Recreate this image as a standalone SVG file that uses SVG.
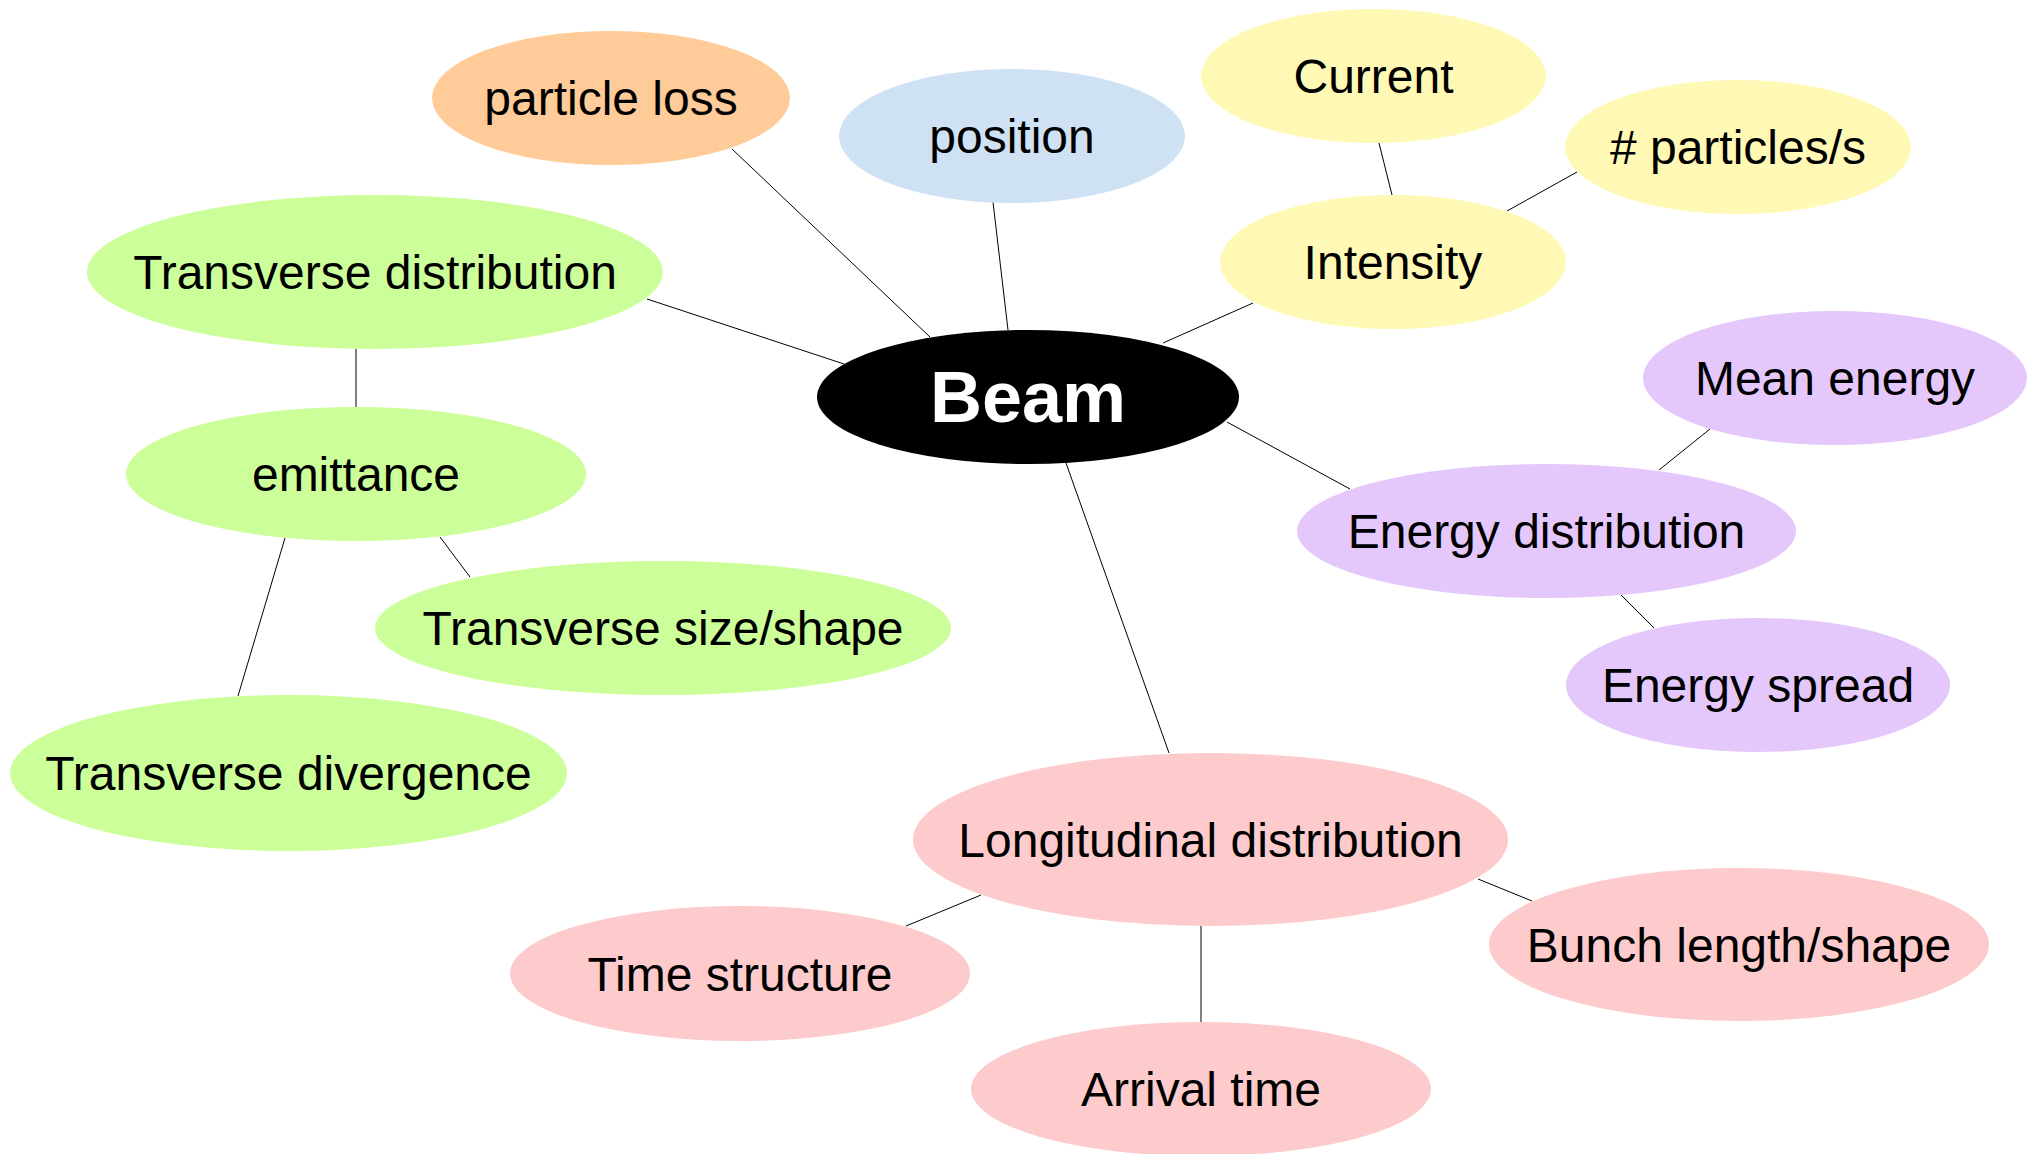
<svg xmlns="http://www.w3.org/2000/svg" width="2031" height="1154" viewBox="0 0 2031 1154">
<style>
text{font-family:"Liberation Sans",Arial,sans-serif;font-size:48px;fill:#000;text-anchor:middle}
.c line{stroke:#000;stroke-width:1}
.peach{fill:#ffcc99}.blue{fill:#cfe2f3}.yellow{fill:#fff9b5}.green{fill:#ccff99}.purple{fill:#e4c8fc}.pink{fill:#fdcbcb}
</style>
<rect width="2031" height="1154" fill="#fff"/>
<g class="c" id="connectors">
<line x1="732" y1="149" x2="930" y2="337"/>
<line x1="993" y1="202" x2="1008" y2="330"/>
<line x1="1253" y1="303" x2="1163" y2="343"/>
<line x1="647" y1="299" x2="844" y2="364"/>
<line x1="1379" y1="143" x2="1392" y2="195"/>
<line x1="1507" y1="211" x2="1577" y2="172"/>
<line x1="1710" y1="429" x2="1659" y2="470"/>
<line x1="1227" y1="422" x2="1350" y2="489"/>
<line x1="1621" y1="595" x2="1654" y2="628"/>
<line x1="1066" y1="463" x2="1169" y2="753"/>
<line x1="356" y1="349" x2="356" y2="407"/>
<line x1="285" y1="538" x2="238" y2="696"/>
<line x1="440" y1="537" x2="470" y2="577"/>
<line x1="981" y1="895" x2="906" y2="926"/>
<line x1="1201" y1="926" x2="1201" y2="1022"/>
<line x1="1478" y1="879" x2="1532" y2="901"/>
</g>
<g id="beam"><ellipse cx="1028" cy="397" rx="211" ry="67" fill="#000"/><text x="1028" y="422" style="font-size:72px;font-weight:bold;fill:#fff">Beam</text></g>
<g id="particle-loss"><ellipse class="peach" cx="611" cy="98" rx="179" ry="67"/><text x="611" y="115">particle loss</text></g>
<g id="position"><ellipse class="blue" cx="1012" cy="136" rx="173" ry="67"/><text x="1012" y="153">position</text></g>
<g id="current"><ellipse class="yellow" cx="1373.5" cy="76" rx="172.5" ry="67"/><text x="1373.5" y="93">Current</text></g>
<g id="intensity"><ellipse class="yellow" cx="1393" cy="262" rx="173" ry="67"/><text x="1393" y="279">Intensity</text></g>
<g id="particles-s"><ellipse class="yellow" cx="1738" cy="147" rx="173" ry="67"/><text x="1738" y="164"># particles/s</text></g>
<g id="transverse-distribution"><ellipse class="green" cx="375" cy="272" rx="288" ry="77"/><text x="375" y="289">Transverse distribution</text></g>
<g id="emittance"><ellipse class="green" cx="356" cy="474" rx="230" ry="67"/><text x="356" y="491">emittance</text></g>
<g id="transverse-size"><ellipse class="green" cx="663" cy="628" rx="288" ry="67"/><text x="663" y="645">Transverse size/shape</text></g>
<g id="transverse-divergence"><ellipse class="green" cx="288.5" cy="773" rx="278.5" ry="78"/><text x="288.5" y="790">Transverse divergence</text></g>
<g id="mean-energy"><ellipse class="purple" cx="1835" cy="378" rx="192" ry="67"/><text x="1835" y="395">Mean energy</text></g>
<g id="energy-distribution"><ellipse class="purple" cx="1546.5" cy="531" rx="249.5" ry="67"/><text x="1546.5" y="548">Energy distribution</text></g>
<g id="energy-spread"><ellipse class="purple" cx="1758" cy="685" rx="192" ry="67"/><text x="1758" y="702">Energy spread</text></g>
<g id="longitudinal-distribution"><ellipse class="pink" cx="1210.5" cy="839.5" rx="297.5" ry="86.5"/><text x="1210.5" y="856.5">Longitudinal distribution</text></g>
<g id="time-structure"><ellipse class="pink" cx="740" cy="973.5" rx="230" ry="67.5"/><text x="740" y="990.5">Time structure</text></g>
<g id="arrival-time"><ellipse class="pink" cx="1201" cy="1089" rx="230" ry="67"/><text x="1201" y="1106">Arrival time</text></g>
<g id="bunch-length"><ellipse class="pink" cx="1739" cy="944.5" rx="250" ry="76.5"/><text x="1739" y="961.5">Bunch length/shape</text></g>
</svg>
